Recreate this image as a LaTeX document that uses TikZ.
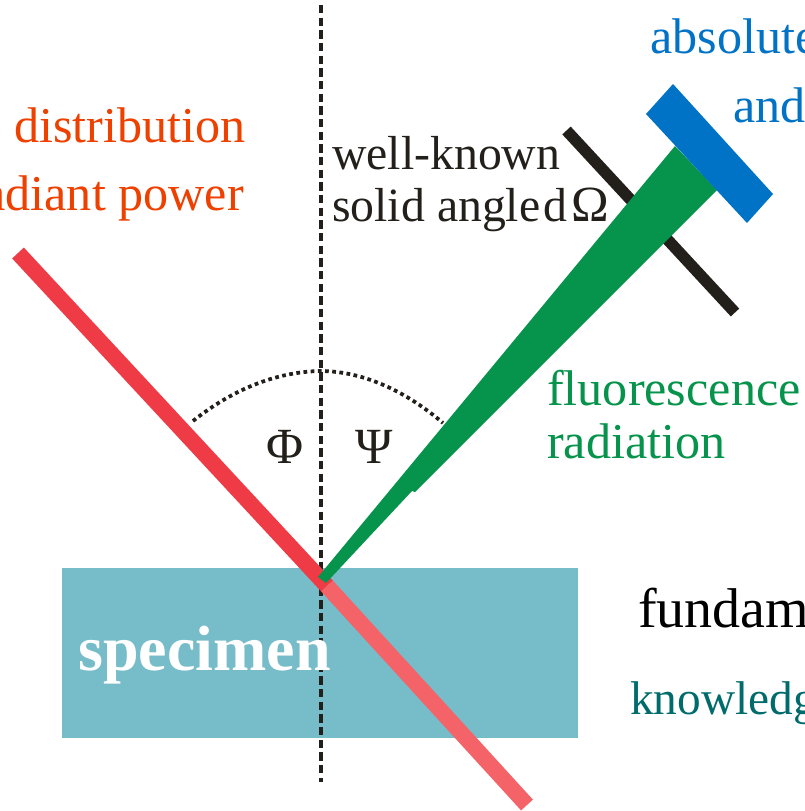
\documentclass[tikz,border=0pt]{standalone}
\usepackage{fontspec}
\setmainfont{Liberation Serif}
\usetikzlibrary{positioning}
\definecolor{specimenteal}{HTML}{77BCC9}
\definecolor{beamred}{HTML}{EF3B45}
\definecolor{beampale}{HTML}{F36368}
\definecolor{fluorgreen}{HTML}{06934B}
\definecolor{detectblue}{HTML}{0073C6}
\definecolor{inkblack}{HTML}{231F1A}
\definecolor{labelorange}{HTML}{EE4100}
\definecolor{labelteal}{HTML}{006B6B}
\tikzset{
  label text/.style={inner sep=0pt, anchor=base west, font=\fontsize{37.6}{44}\selectfont},
  small text/.style={label text, font=\fontsize{35.8}{42}\selectfont, text=inkblack},
  angle text/.style={inner sep=0pt, anchor=base, font=\fontsize{38}{44}\selectfont, text=inkblack},
  beam/.style={line width=12pt}
}
\begin{document}
\begin{tikzpicture}[x=0.75pt, y=-0.75pt]
\clip (0,0) rectangle (805,811);
\fill[white] (0,0) rectangle (805,811);
% specimen block and surface normal
\node[fill=specimenteal, inner sep=0pt, minimum width=387pt, minimum height=127.5pt, anchor=north west] (specimen) at (62,568) {};
\coordinate (normaltop) at (321,5);
\coordinate (normalbottom) at (321,782);
\draw[inkblack, line width=3pt, dash pattern=on 6.3pt off 3.2pt] (normaltop) -- (normalbottom);
% incoming beam
\coordinate (beamstart) at (18,253);
\coordinate (beamhit) at (327,586);
\coordinate (beamend) at (527,805);
\draw[beam, beamred] (beamstart) -- (beamhit);
\draw[beam, beampale] (beamhit) -- (beamend);
% aperture, fluorescence cone, detector
\coordinate (aperturetop) at (566.5,130.5);
\coordinate (aperturebottom) at (735,312.5);
\draw[inkblack, line width=8.6pt] (aperturetop) -- (aperturebottom);
\fill[fluorgreen] (318,577) -- (675,146) -- (717,190) -- (415,492) -- (412,491) -- (326,583) -- cycle;
\fill[detectblue] (673,84) -- (646,114) -- (747,223) -- (773,194) -- cycle;
% angles
\coordinate (arcleft) at (193,421);
\coordinate (arctop) at (320,371);
\coordinate (arcright) at (443,423);
\draw[inkblack, line width=2.8pt, dash pattern=on 2.8pt off 2.6pt] (arcleft) .. controls (232,390) and (275,372) .. (arctop) .. controls (365,371) and (408,393) .. (arcright);
\node[angle text] (phi) at (285,463) {Φ};
\node[angle text] (psi) at (374,463) {Ψ};
% labels
\node[label text, text=labelorange] (distribution) at (14,142) {distribution};
\node[label text, text=labelorange, anchor=base east] (power) at (244,210) {adiant power};
\node[small text] (wellknown) at (332,169) {well-known};
\node[small text] (solidangle) at (332,221) {solid angle\kern2pt d\kern3.7pt{\fontsize{38}{42}\selectfont Ω}};
\node[label text, text=fluorgreen] (fluorescence) at (547,405) {fluorescence};
\node[label text, text=fluorgreen] (radiation) at (547,458) {radiation};
\node[label text, text=detectblue] (absolute) at (650,53) {absolute};
\node[label text, text=detectblue] (and) at (733,122) {and};
\node[label text, text=white, font=\fontsize{48}{56}\selectfont\bfseries] (specimenlabel) at (78,670) {specimen};
\node[label text, text=black, font=\fontsize{42}{50}\selectfont] (fundam) at (638,627) {fundam};
\node[label text, text=labelteal, font=\fontsize{35.5}{42}\selectfont] (knowledge) at (630,714) {knowledg};
\end{tikzpicture}
\end{document}
